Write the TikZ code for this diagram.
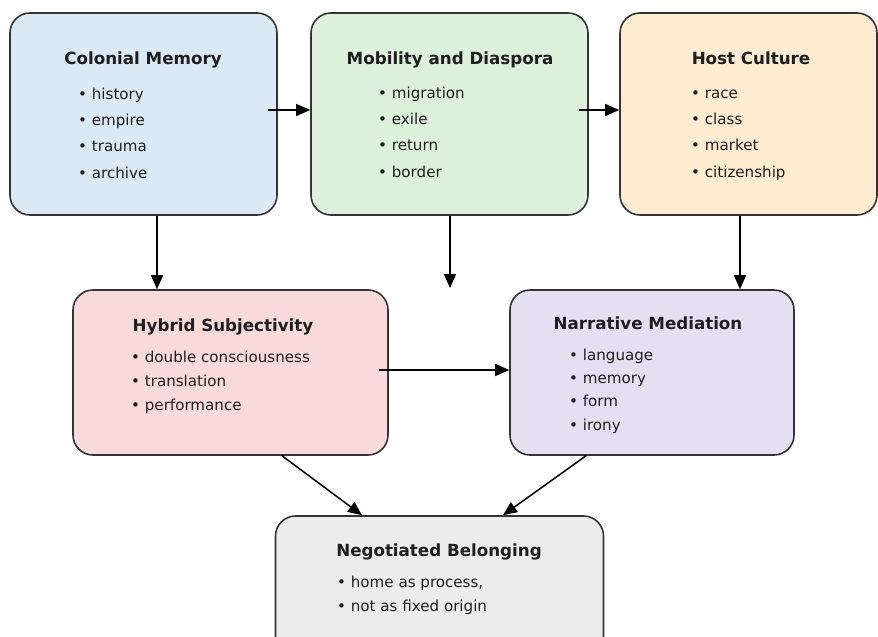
\documentclass[tikz,border=0pt]{standalone}
\usepackage{fontspec}
\setmainfont{DejaVu Sans}
\usetikzlibrary{arrows.meta}

\definecolor{edge}{HTML}{333333}
\definecolor{ink}{HTML}{1E1E1E}
\definecolor{fillcm}{HTML}{DBE9F5}
\definecolor{fillmd}{HTML}{DDF0DC}
\definecolor{fillhc}{HTML}{FDEBD2}
\definecolor{fillhs}{HTML}{F8DADA}
\definecolor{fillnm}{HTML}{E5DFF2}
\definecolor{fillnb}{HTML}{ECECEC}

\tikzset{
  box/.style={draw=edge, line width=1.6pt, rounded corners=20pt, inner sep=0pt},
  title/.style={anchor=base, inner sep=0pt, text=ink, font=\bfseries\fontsize{16.7}{20}\selectfont},
  items/.style={anchor=base west, align=left, inner sep=0pt, text=ink, font=\fontsize{15.1}{#1}\selectfont},
  arr/.style={line width=1.5pt, draw=black, -{Triangle[length=14pt,width=12pt]}}
}

\begin{document}
\begin{tikzpicture}[x=1pt,y=-1pt]
          \useasboundingbox (0,0) rectangle (878,637);
          % boxes
          \node[box, fill=fillcm, minimum width=267pt, minimum height=202pt] (cm) at (143.5,114) {};
          \node[box, fill=fillmd, minimum width=277pt, minimum height=202pt] (md) at (449.5,114) {};
          \node[box, fill=fillhc, minimum width=257pt, minimum height=202pt] (hc) at (748.5,114) {};
          \node[box, fill=fillhs, minimum width=315pt, minimum height=165pt] (hs) at (230.5,372.5) {};
          \node[box, fill=fillnm, minimum width=284pt, minimum height=165pt] (nm) at (652,372.5) {};
          \node[box, fill=fillnb, minimum width=328pt, minimum height=140pt] (nb) at (439.5,586) {};
          % titles and items (items anchored on their last line)
          \node[title] (cmt) at (143,64) {Colonial Memory};
          \node[items=26.3] (cmi) at (78,178) {• history\\• empire\\• trauma\\• archive};
          \node[title] (mdt) at (450,64) {Mobility and Diaspora};
          \node[items=26.3] (mdi) at (378,177) {• migration\\• exile\\• return\\• border};
          \node[title] (hct) at (751,64) {Host Culture};
          \node[items=26.3] (hci) at (691,177) {• race\\• class\\• market\\• citizenship};
          \node[title] (hst) at (223,331) {Hybrid Subjectivity};
          \node[items=24] (hsi) at (131,410) {• double consciousness\\• translation\\• performance};
          \node[title] (nmt) at (648,329) {Narrative Mediation};
          \node[items=23.3] (nmi) at (569,430) {• language\\• memory\\• form\\• irony};
          \node[title] (nbt) at (439,556) {Negotiated Belonging};
          \node[items=24.5] (nbi) at (337,611.5) {• home as process,\\• not as fixed origin};
          % connectors
          \coordinate (mdend) at (450,288);
          \draw[arr] ([xshift=-10pt,yshift=4pt]cm.east) -- ([yshift=4pt]cm.east -| md.west);
          \draw[arr] ([xshift=-10pt,yshift=4pt]md.east) -- ([yshift=4pt]md.east -| hc.west);
          \draw[arr] ([xshift=13.5pt]cm.south) -- ([xshift=13.5pt]cm.south |- hs.north);
          \draw[arr] (md.south -| mdend) -- (mdend);
          \draw[arr] ([xshift=-8.5pt]hc.south) -- ([xshift=-8.5pt]hc.south |- nm.north);
          \draw[arr] ([xshift=-10pt,yshift=2.5pt]hs.east) -- ([yshift=2.5pt]hs.east -| nm.west);
          \draw[arr] ([xshift=51.5pt]hs.south) -- ([xshift=-77.5pt]nb.north);
          \draw[arr] ([xshift=-66pt]nm.south) -- ([xshift=63.5pt]nb.north);
\end{tikzpicture}
\end{document}
